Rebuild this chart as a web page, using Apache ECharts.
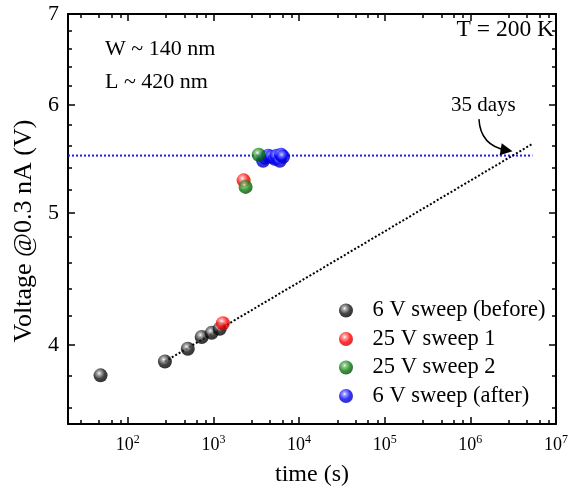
<!DOCTYPE html>
<html><head><meta charset="utf-8">
<script src="https://cdn.jsdelivr.net/npm/echarts@6/dist/echarts.min.js"></script>
<style>html,body{margin:0;padding:0;background:#fff}#c{width:587px;height:489px}</style>
</head><body><div id="c"></div>
<script>
// ---- data (time in s, voltage in V) ----
const seriesNames = ['6 V sweep (before)', '25 V sweep 1', '25 V sweep 2', '6 V sweep (after)'];
const before6V = [[48,3.80],[271,3.89],[501,3.975],[728,4.055],[953,4.083],[1183,4.112]];
const sweep25V1 = [[1289,4.15],[2249,5.284]];
const sweep25V2 = [[2371,5.226],[3372,5.518]];
const after6V = [[3800,5.462],[4000,5.49],[4350,5.509],[4800,5.499],[5200,5.481],[5450,5.509],[5950,5.462],[6150,5.518],[6500,5.499]];
const trendLine = [[271,3.89],[5.3e6,5.62]];
const levelLine = [[20,5.51],[5.3e6,5.51]];
const arrowCoords = [[1.26e6,5.86],[2.65e6,5.56]];
// ---- ticks ----
const xRange = [20, 1e7];
const yRange = [3.5, 7];
const xMajor = [1e2,1e3,1e4,1e5,1e6,1e7];
const xMinor = [28,46,64,82,280,460,640,820,2800,4600,6400,8200,28000,46000,64000,82000,280000,460000,640000,820000,2800000,4600000,6400000,8200000];
const yMajor = [4,5,6,7];
const yMinor = [3.6,3.8,4.2,4.4,4.6,4.8,5.2,5.4,5.6,5.8,6.2,6.4,6.6,6.8];

const FONT = 'Liberation Serif';
function ball(c0, c1, c2) {
  return {type:'radial', x:0.4, y:0.35, r:0.65, colorStops:[
    {offset:0, color:'#ffffff'},{offset:0.18, color:c0},{offset:0.6, color:c1},{offset:1, color:c2}]};
}
const colBlack = ball('#a0a0a0', '#151515', '#000000');
const colRed = ball('#ff9a9a', '#ff0000', '#c80000');
const colGreen = ball('#80c080', '#0a800a', '#004a00');
const colBlue = ball('#8a8aff', '#0000ff', '#0000b0');

function xAx(pos, ticks, len, showLine, showLabel) {
  return {
    type:'log', logBase:10, position:pos, min:xRange[0], max:xRange[1],
    axisLine:{show:showLine, onZero:false, lineStyle:{color:'#000', width:2}},
    axisTick:{show:true, inside:true, length:len, customValues:ticks, lineStyle:{color:'#000', width:1.5}},
    axisLabel: showLabel ? {
      customValues:ticks, margin:11, color:'#000', fontFamily:FONT,
      formatter: v => '{b|10}{s|' + Math.round(Math.log10(v)) + '}',
      rich:{ b:{fontSize:18, fontFamily:FONT, color:'#000', lineHeight:20},
             s:{fontSize:12, fontFamily:FONT, color:'#000', lineHeight:12, verticalAlign:'bottom', padding:[0,0,9,0]} }
    } : {show:false},
    splitLine:{show:false}
  };
}
function yAx(pos, ticks, len, showLine, showLabel) {
  return {
    type:'log', logBase:10, position:pos, min:yRange[0], max:yRange[1],
    axisLine:{show:showLine, onZero:false, lineStyle:{color:'#000', width:2}},
    axisTick:{show:true, inside:true, length:len, customValues:ticks, lineStyle:{color:'#000', width:1.5}},
    axisLabel: showLabel ? {customValues:ticks, margin:9, color:'#000', fontFamily:FONT, fontSize:22} : {show:false},
    splitLine:{show:false}
  };
}

const xAxes = [xAx('bottom', xMajor, 7, true, true), xAx('bottom', xMinor, 4, false, false),
               xAx('top', xMajor, 7, true, false), xAx('top', xMinor, 4, false, false)];
Object.assign(xAxes[0], {name:'time (s)', nameLocation:'middle', nameGap:39,
  nameTextStyle:{fontFamily:FONT, fontSize:24, color:'#000'}});
const yAxes = [yAx('left', yMajor, 7, true, true), yAx('left', yMinor, 4, false, false),
               yAx('right', yMajor, 7, true, false), yAx('right', yMinor, 4, false, false)];
Object.assign(yAxes[0], {name:'Voltage @0.3 nA (V)', nameLocation:'middle', nameGap:31,
  nameTextStyle:{fontFamily:FONT, fontSize:26, color:'#000', padding:[0,24,0,0]}});

function scatter(name, data, color) {
  return {type:'scatter', name:name, data:data, symbol:'circle', symbolSize:14,
    itemStyle:{color:color}, xAxisIndex:0, yAxisIndex:0, z:5};
}

const chart = echarts.init(document.getElementById('c'), null, {renderer:'canvas'});
chart.setOption({
  animation:false,
  backgroundColor:'#fff',
  textStyle:{fontFamily:FONT},
  grid:{left:68, right:31, top:14, bottom:65, containLabel:false, outerBoundsMode:'none'},
  xAxis:xAxes,
  yAxis:yAxes,
  legend:{
    data:seriesNames, orient:'vertical', left:339, top:299, padding:0,
    itemWidth:43, itemHeight:14, itemGap:5.5, icon:'circle',
    textStyle:{fontFamily:FONT, fontSize:22.5, color:'#000', lineHeight:22}
  },
  series:[
    {type:'line', data:levelLine, symbol:'none', silent:true, z:2,
     lineStyle:{color:'#1a1aff', width:2, type:[2,2]}},
    {type:'line', data:trendLine, symbol:'none', silent:true, z:2,
     lineStyle:{color:'#000', width:2, type:[2,2]}},
    scatter(seriesNames[3], after6V, colBlue),
    scatter(seriesNames[0], before6V, colBlack),
    scatter(seriesNames[1], sweep25V1, colRed),
    scatter(seriesNames[2], sweep25V2, colGreen),
    {type:'lines', coordinateSystem:'cartesian2d', xAxisIndex:0, yAxisIndex:0, z:6,
     symbol:['none','triangle'], symbolSize:[0,12],
     lineStyle:{color:'#000', width:1.5, curveness:-0.4, opacity:1},
     data:[{coords:arrowCoords}]}
  ],
  graphic:[
    {type:'text', left:105, top:38, style:{text:'W ~ 140 nm', font:'22px "Liberation Serif"', fill:'#000'}},
    {type:'text', left:105, top:71, style:{text:'L ~ 420 nm', font:'22px "Liberation Serif"', fill:'#000'}},
    {type:'text', right:33, top:18, style:{text:'T = 200 K', font:'23.5px "Liberation Serif"', fill:'#000'}},
    {type:'text', left:451, top:95, style:{text:'35 days', font:'21px "Liberation Serif"', fill:'#000'}}
  ]
});
</script></body></html>
